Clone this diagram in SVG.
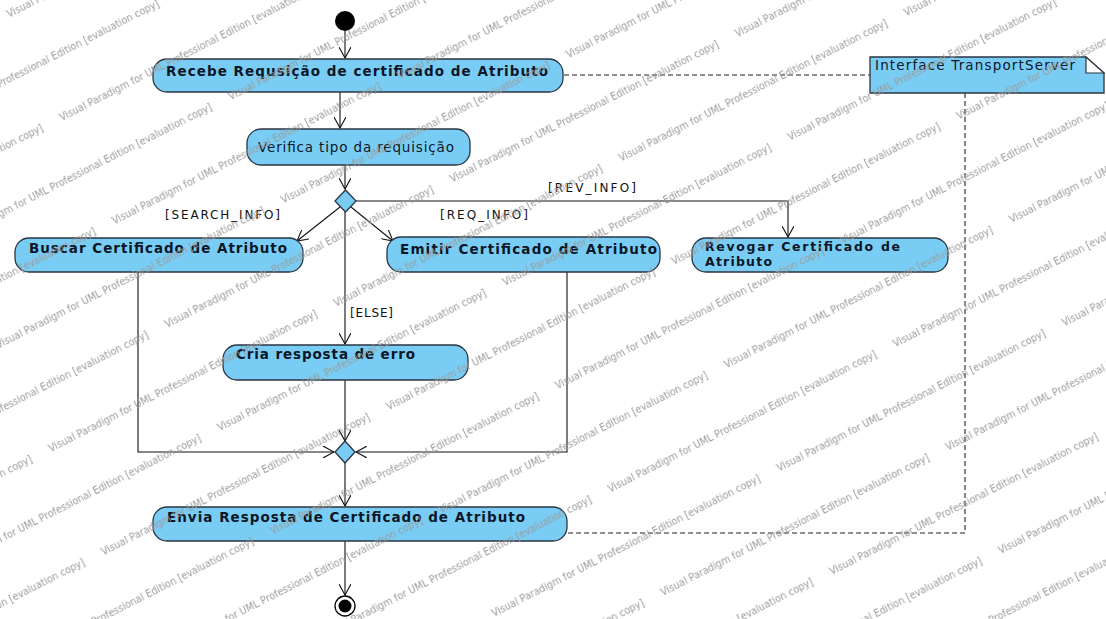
<svg xmlns="http://www.w3.org/2000/svg" width="1106" height="619" viewBox="0 0 1106 619">
  <defs>
    <style>
      .action { fill: #79cdf4; stroke: #2b3540; stroke-width: 1.3; }
      .lbl { font-family: "DejaVu Sans", "Noto Sans", sans-serif; font-size: 13.5px; font-weight: bold; fill: #0d1626; }
      .lbl2 { font-family: "DejaVu Sans", "Noto Sans", sans-serif; font-size: 12.5px; font-weight: bold; fill: #0d1626; }
      .lblr { font-family: "DejaVu Sans", "Noto Sans", sans-serif; font-size: 13.5px; fill: #0d1626; }
      .guard { font-family: "DejaVu Sans", "Noto Sans", sans-serif; font-size: 12px; fill: #111; }
      .flow { fill: none; stroke: #111; stroke-width: 1.1; }
      .dep { fill: none; stroke: #222; stroke-width: 1.1; stroke-dasharray: 5 3; }
      .wm { font-family: "DejaVu Sans", sans-serif; font-size: 10px; fill: #9a9a9a; }
    </style>
    <marker id="open" viewBox="0 0 12 12" refX="11" refY="6" markerWidth="12" markerHeight="12" markerUnits="userSpaceOnUse" orient="auto">
      <path d="M0,0 L11,6 L0,12" fill="none" stroke="#111" stroke-width="1.1"/>
    </marker>
    <pattern id="watermark" patternUnits="userSpaceOnUse" width="320" height="116" patternTransform="rotate(-27)">
      <text class="wm" x="0" y="20" textLength="300" lengthAdjust="spacingAndGlyphs">Visual Paradigm for UML Professional Edition [evaluation copy]</text>
      <text class="wm" x="-160" y="78" textLength="300" lengthAdjust="spacingAndGlyphs">Visual Paradigm for UML Professional Edition [evaluation copy]</text>
      <text class="wm" x="160" y="78" textLength="300" lengthAdjust="spacingAndGlyphs">Visual Paradigm for UML Professional Edition [evaluation copy]</text>
    </pattern>
  </defs>

  <rect x="0" y="0" width="1106" height="619" fill="#fff"/>

  <!-- control flows and dependencies -->
  <g id="connectors">
    <line class="flow" x1="345" y1="31" x2="345" y2="58" marker-end="url(#open)"/>
    <line class="flow" x1="340" y1="92" x2="340" y2="128" marker-end="url(#open)"/>
    <line class="flow" x1="345" y1="165" x2="345" y2="189" marker-end="url(#open)"/>
    <!-- decision branches -->
    <polyline class="flow" points="356,201 788,201 788,237" marker-end="url(#open)"/>
    <line class="flow" x1="340" y1="207" x2="297" y2="241" marker-end="url(#open)"/>
    <line class="flow" x1="351" y1="207" x2="393" y2="241" marker-end="url(#open)"/>
    <line class="flow" x1="345" y1="212" x2="345" y2="344" marker-end="url(#open)"/>
    <!-- merge inputs -->
    <polyline class="flow" points="138,272 138,452 334,452" marker-end="url(#open)"/>
    <polyline class="flow" points="567,272 567,452 356,452" marker-end="url(#open)"/>
    <line class="flow" x1="345" y1="380" x2="345" y2="441" marker-end="url(#open)"/>
    <line class="flow" x1="345" y1="463" x2="345" y2="506" marker-end="url(#open)"/>
    <line class="flow" x1="345" y1="541" x2="345" y2="595" marker-end="url(#open)"/>
    <!-- interface dependencies -->
    <line class="dep" x1="564" y1="75" x2="870" y2="75"/>
    <polyline class="dep" points="965,93 965,533 568,533"/>
    <!-- guards -->
    <text class="guard" x="548" y="192" textLength="88">[REV_INFO]</text>
    <text class="guard" x="165" y="219" textLength="115">[SEARCH_INFO]</text>
    <text class="guard" x="440" y="219" textLength="88">[REQ_INFO]</text>
    <text class="guard" x="350" y="317" textLength="43">[ELSE]</text>
  </g>

  <g id="initial">
    <circle cx="345" cy="21" r="10" fill="#000"/>
  </g>

  <g id="recebe">
    <rect class="action" x="153" y="59" width="410" height="33" rx="14"/>
    <text class="lbl" x="166" y="76" textLength="382">Recebe Requsição de certificado de Atributo</text>
  </g>

  <g id="verifica">
    <rect class="action" x="247" y="129" width="223" height="36" rx="14"/>
    <text class="lblr" x="258" y="152" textLength="196">Verifica tipo da requisição</text>
  </g>

  <g id="decision">
    <polygon class="action" points="345.5,190 356,201 345.5,212 335,201"/>
  </g>

  <g id="buscar">
    <rect class="action" x="15" y="238" width="288" height="34" rx="14"/>
    <text class="lbl" x="29" y="253" textLength="258">Buscar Certificado de Atributo</text>
  </g>

  <g id="emitir">
    <rect class="action" x="387" y="237" width="273" height="35" rx="14"/>
    <text class="lbl" x="400" y="254" textLength="257">Emitir Certificado de Atributo</text>
  </g>

  <g id="revogar">
    <rect class="action" x="692" y="238" width="256" height="34" rx="14"/>
    <text class="lbl2" x="705" y="251" textLength="195">Revogar Certificado de</text>
    <text class="lbl2" x="705" y="266" textLength="67">Atributo</text>
  </g>

  <g id="cria">
    <rect class="action" x="223" y="345" width="245" height="35" rx="14"/>
    <text class="lbl" x="236" y="359" textLength="179">Cria resposta de erro</text>
  </g>

  <g id="merge">
    <polygon class="action" points="345,441 355,452 345,463 335,452"/>
  </g>

  <g id="envia">
    <rect class="action" x="153" y="507" width="414" height="34" rx="14"/>
    <text class="lbl" x="167" y="522" textLength="358">Envia Resposta de Certificado de Atributo</text>
  </g>

  <g id="final">
    <circle cx="345" cy="606" r="10" fill="#fff" stroke="#000" stroke-width="1.3"/>
    <circle cx="345" cy="606" r="6.5" fill="#000"/>
  </g>

  <g id="transport-server">
    <path class="action" d="M870,57 H1086 L1104,73 V93 H870 Z"/>
    <path d="M1086,57 V73 H1104 Z" fill="#fff" stroke="#2b3540" stroke-width="1.2"/>
    <text class="lblr" x="875" y="70" textLength="200">Interface TransportServer</text>
  </g>

  <!-- evaluation watermark laid over the drawing -->
  <rect x="0" y="0" width="1106" height="619" fill="url(#watermark)" pointer-events="none"/>
</svg>
